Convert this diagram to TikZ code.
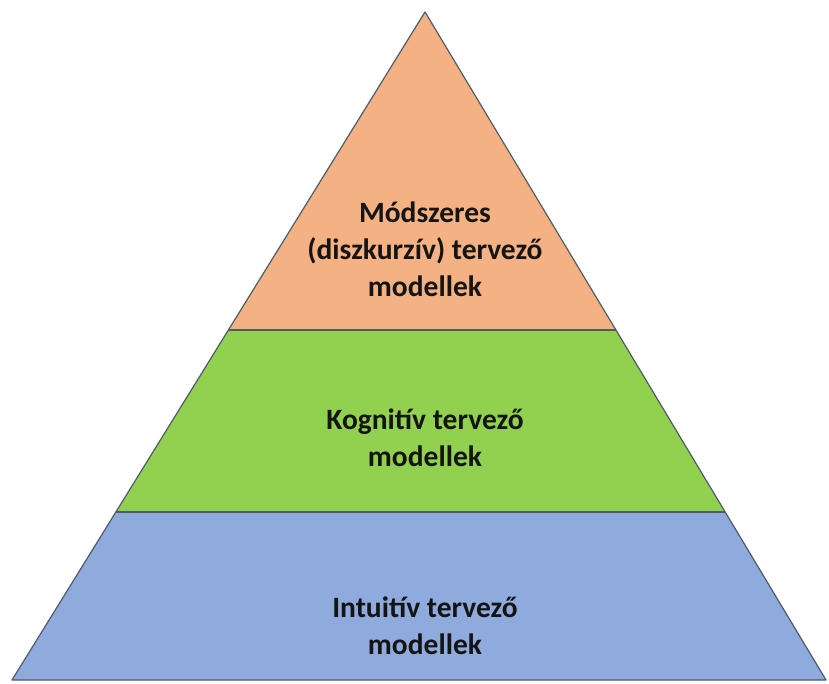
\documentclass[tikz,border=0pt]{standalone}
\usepackage{fontspec}
\setmainfont{Carlito}
\usetikzlibrary{calc}
\definecolor{topc}{HTML}{F4B183}
\definecolor{midc}{HTML}{92D050}
\definecolor{botc}{HTML}{8FAADC}
\definecolor{edgec}{HTML}{4F5B66}
\begin{document}
\begin{tikzpicture}[x=1pt,y=-1pt,
  band/.style={draw=edgec,line width=1.2pt,line join=round},
  lbl/.style={font=\bfseries\fontsize{29.5}{37}\selectfont,align=center,text=black!92}]
\useasboundingbox (0,0) rectangle (829,684);
\coordinate (apex) at (425,12);
\coordinate (bl) at (12,680);
\coordinate (br) at (826,680);
\coordinate (ol) at ($(apex)!0.476!(bl)$);
\coordinate (or) at ($(apex)!0.476!(br)$);
\coordinate (gl) at ($(apex)!0.7485!(bl)$);
\coordinate (gr) at ($(apex)!0.7485!(br)$);
\fill[botc] (gl) -- (gr) -- (br) -- (bl) -- cycle;
\fill[midc] (ol) -- (or) -- (gr) -- (gl) -- cycle;
\fill[topc] (apex) -- (or) -- (ol) -- cycle;
\draw[band] (ol) -- (or);
\draw[band] (gl) -- (gr);
\draw[band] (apex) -- (br) -- (bl) -- cycle;
\node[lbl] (t1) at (425,249) {Módszeres\\(diszkurzív) tervező\\modellek};
\node[lbl] (t2) at (425,438) {Kognitív tervező\\modellek};
\node[lbl] (t3) at (425,626) {Intuitív tervező\\modellek};
\end{tikzpicture}
\end{document}
